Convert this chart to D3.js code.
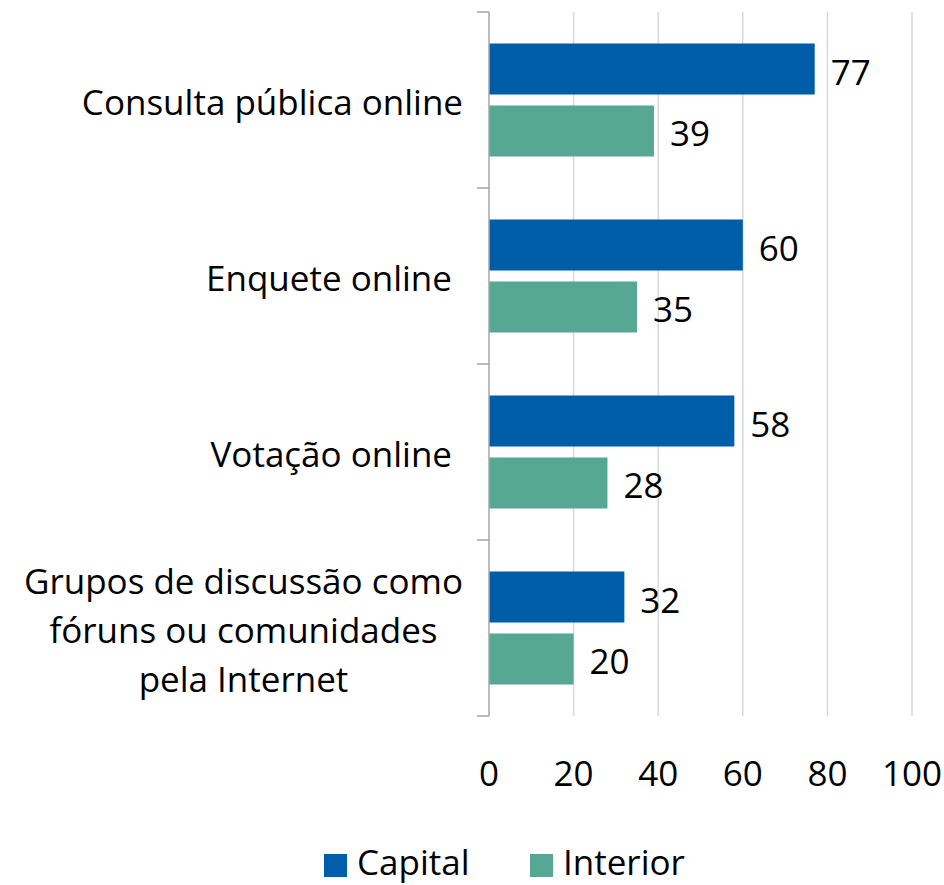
<!DOCTYPE html>
<html>
<head>
<meta charset="utf-8">
<script src="https://cdn.jsdelivr.net/npm/d3@7"></script>
<style>
  body { margin: 0; background: #fff; }
  text { font-family: "Segoe UI", "Open Sans", sans-serif; fill: #000; }
</style>
</head>
<body>
<svg id="chart" width="944" height="885"></svg>
<script>
// dados
var categorias = [
  ["Consulta pública online"],
  ["Enquete online"],
  ["Votação online"],
  ["Grupos de discussão como", "fóruns ou comunidades", "pela Internet"]
];
var series = ["Capital", "Interior"];
var capital = [77, 60, 58, 32];
var interior = [39, 35, 28, 20];
var ticks = [0, 20, 40, 60, 80, 100];
var cores = ["#005DAA", "#56A895"];

var svg = d3.select("#chart");
var fs = 35;

var nomes = categorias.map(function(c){ return c.join(" "); });
var x = d3.scaleLinear().domain([0, 100]).range([489, 912]);
var y = d3.scaleBand().domain(nomes).range([12, 716]);
var ys = d3.scaleBand().domain(series).range([0, y.bandwidth()])
           .paddingInner(0.177).paddingOuter(0.508);

// linhas de grade
svg.append("g").selectAll("line").data(ticks.slice(1)).enter().append("line")
   .attr("x1", function(d){ return x(d); }).attr("x2", function(d){ return x(d); })
   .attr("y1", 12).attr("y2", 716)
   .attr("stroke", "#D9D9D9").attr("stroke-width", 1.5);

// barras
var dados = [];
nomes.forEach(function(n, i){
  dados.push({cat: n, s: "Capital", v: capital[i]});
  dados.push({cat: n, s: "Interior", v: interior[i]});
});
var gb = svg.append("g");
gb.selectAll("rect").data(dados).enter().append("rect")
  .attr("x", x(0))
  .attr("y", function(d){ return y(d.cat) + ys(d.s); })
  .attr("width", function(d){ return x(d.v) - x(0); })
  .attr("height", ys.bandwidth())
  .attr("fill", function(d){ return cores[series.indexOf(d.s)]; });

gb.selectAll("text").data(dados).enter().append("text")
  .attr("x", function(d){ return x(d.v) + 16; })
  .attr("y", function(d){ return y(d.cat) + ys(d.s) + ys.bandwidth()/2 + 2; })
  .attr("dominant-baseline", "central")
  .attr("font-size", fs)
  .text(function(d){ return d.v; });

// eixo vertical
var eixo = svg.append("g");
eixo.append("line").attr("x1", 489).attr("x2", 489).attr("y1", 12).attr("y2", 716)
    .attr("stroke", "#A6A6A6").attr("stroke-width", 1.5);
var marcas = nomes.map(function(n){ return y(n); }).concat([716]);
eixo.selectAll(".tk").data(marcas).enter().append("line")
    .attr("x1", 477).attr("x2", 489)
    .attr("y1", function(d){ return d; }).attr("y2", function(d){ return d; })
    .attr("stroke", "#A6A6A6").attr("stroke-width", 1.5);

// rótulos das categorias
categorias.forEach(function(linhas, i){
  var cy = y(nomes[i]) + y.bandwidth()/2;
  var t = svg.append("text").attr("font-size", fs);
  var lh = 49;
  linhas.forEach(function(l, j){
    t.append("tspan").attr("x", 0)
     .attr("y", cy + 1 + (j - (linhas.length-1)/2) * lh)
     .attr("dominant-baseline", "central")
     .text(l);
  });
  var w = t.node().getBBox().width;
  var pad = (linhas.length == 1 && i > 0) ? 11 : 0;
  if (linhas.length > 1) {
    t.attr("text-anchor", "middle").selectAll("tspan").attr("x", 463 - w/2);
  } else {
    t.attr("text-anchor", "end").selectAll("tspan").attr("x", 463 - pad);
  }
});

// eixo x
svg.append("g").selectAll("text").data(ticks).enter().append("text")
   .attr("x", function(d){ return x(d); }).attr("y", 772)
   .attr("text-anchor", "middle").attr("dominant-baseline", "central")
   .attr("font-size", fs)
   .text(function(d){ return d; });

// legenda
var leg = svg.append("g");
var lx = [324, 530];
series.forEach(function(s, i){
  leg.append("rect").attr("x", lx[i]).attr("y", 854).attr("width", 23).attr("height", 23)
     .attr("fill", cores[i]);
  leg.append("text").attr("x", lx[i] + 33).attr("y", 875)
     .attr("font-size", fs).text(s);
});
</script>
</body>
</html>
